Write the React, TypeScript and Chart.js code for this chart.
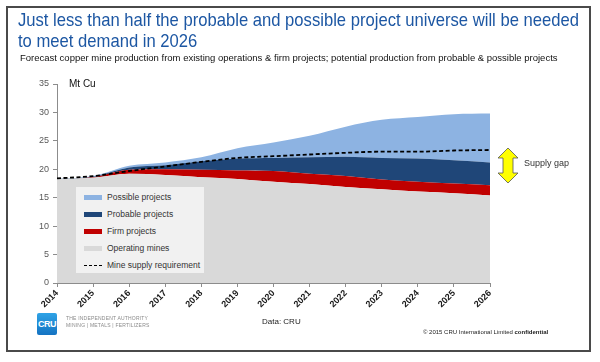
import React, { useEffect, useRef } from "react";
import { Chart, registerables } from "chart.js";

Chart.register(...registerables);

const years = ["2014", "2015", "2016", "2017", "2018", "2019", "2020", "2021", "2022", "2023", "2024", "2025", "2026"];
const operatingMines = [18.3, 18.5, 19.2, 19.0, 18.6, 18.3, 17.8, 17.4, 16.9, 16.5, 16.1, 15.8, 15.4];
const firmProjects = [0.0, 0.1, 0.7, 1.0, 1.3, 1.5, 1.9, 1.8, 1.9, 1.7, 1.7, 1.7, 1.8];
const probableProjects = [0.0, 0.1, 0.4, 0.7, 1.5, 2.1, 2.3, 2.9, 3.4, 3.8, 4.1, 4.1, 4.0];
const possibleProjects = [0.0, 0.1, 0.3, 0.5, 0.7, 1.8, 2.7, 3.8, 5.3, 6.7, 7.3, 8.1, 8.6];
const mineSupplyRequirement = [18.4, 18.8, 19.7, 20.5, 21.3, 22.0, 22.3, 22.6, 22.9, 23.1, 23.1, 23.3, 23.4];
const yTickValues = [0, 5, 10, 15, 20, 25, 30, 35];

const seriesNames = ["Possible projects", "Probable projects", "Firm projects", "Operating mines", "Mine supply requirement"];
const seriesColors = ["#8db3e2", "#1f4678", "#c00000", "#d9d9d9", "#000000"];

const FONT = '"Liberation Sans", Arial, sans-serif';

export default function App() {
  const canvasRef = useRef<HTMLCanvasElement | null>(null);

  useEffect(() => {
    const canvas = canvasRef.current;
    if (!canvas) return;
    const area = (label: string, data: number[], color: string, fill: any) => ({
      label,
      data,
      backgroundColor: color,
      borderColor: color,
      borderWidth: 0,
      pointRadius: 0,
      fill,
      stack: "supply",
      cubicInterpolationMode: "monotone" as const,
    });
    const chart = new Chart(canvas, {
      type: "line",
      data: {
        labels: years,
        datasets: [
          {
            label: seriesNames[4],
            data: mineSupplyRequirement,
            borderColor: "#000000",
            backgroundColor: "#000000",
            borderWidth: 1.8,
            borderDash: [4, 2.5],
            pointRadius: 0,
            fill: false,
            stack: "demand",
            cubicInterpolationMode: "monotone",
          },
          area(seriesNames[3], operatingMines, seriesColors[3], "origin"),
          area(seriesNames[2], firmProjects, seriesColors[2], 1),
          area(seriesNames[1], probableProjects, seriesColors[1], 2),
          area(seriesNames[0], possibleProjects, seriesColors[0], 3),
        ] as any,
      },
      options: {
        responsive: false,
        animation: false,
        devicePixelRatio: 1,
        layout: { padding: { left: 0, top: 84, right: 110, bottom: 0 } },
        plugins: {
          legend: { display: false },
          tooltip: { enabled: false },
          title: { display: false },
        },
        scales: {
          x: {
            type: "category",
            offset: false,
            grid: { drawOnChartArea: false, drawTicks: true, tickLength: 4, color: "#8c8c8c" },
            border: { color: "#8c8c8c" },
            ticks: {
              autoSkip: false,
              minRotation: 45,
              maxRotation: 45,
              padding: 1,
              color: "#1a1a1a",
              font: { family: FONT, size: 9, weight: "bold" },
            },
            afterFit: (s: any) => {
              s.height = 79;
            },
          },
          y: {
            stacked: true,
            min: 0,
            max: 35,
            afterBuildTicks: (s: any) => {
              s.ticks = yTickValues.map((v) => ({ value: v }));
            },
            grid: { drawOnChartArea: false, drawTicks: true, tickLength: 4, color: "#8c8c8c" },
            border: { color: "#8c8c8c" },
            ticks: {
              padding: 4,
              color: "#595959",
              font: { family: FONT, size: 9 },
            },
            afterFit: (s: any) => {
              s.width = 57;
            },
          },
        },
      },
    });
    return () => chart.destroy();
  }, []);

  const legendOrder = [0, 1, 2, 3, 4];

  return (
    <div
      style={{
        position: "fixed",
        left: 0,
        top: 0,
        width: 600,
        height: 362,
        background: "#ffffff",
        fontFamily: FONT,
        overflow: "hidden",
      }}
    >
      <div
        style={{
          position: "absolute",
          left: 6,
          top: 6,
          width: 585,
          height: 346,
          boxSizing: "border-box",
          border: "2px solid #4a4a4a",
        }}
      />
      <canvas ref={canvasRef} width={600} height={362} style={{ position: "absolute", left: 0, top: 0, width: 600, height: 362 }} />
      <div
        style={{
          position: "absolute",
          left: 18,
          top: 9,
          color: "#1d57a3",
          fontSize: 19,
          lineHeight: "21px",
          whiteSpace: "nowrap",
          transform: "scaleX(0.875)",
          transformOrigin: "0 0",
        }}
      >
        <div>Just less than half the probable and possible project universe will be needed</div>
        <div>to meet demand in 2026</div>
      </div>
      <div style={{ position: "absolute", left: 20, top: 52, fontSize: 9.5, color: "#111", whiteSpace: "nowrap" }}>
        Forecast copper mine production from existing operations &amp; firm projects; potential production from probable &amp; possible projects
      </div>
      <div style={{ position: "absolute", left: 69, top: 78, fontSize: 10, color: "#111" }}>Mt Cu</div>

      <div
        style={{
          position: "absolute",
          left: 76,
          top: 187,
          width: 128,
          height: 86,
          background: "#f1f1f1",
        }}
      >
        {legendOrder.map((i, k) => (
          <div key={i} style={{ position: "absolute", left: 8, top: 4 + k * 17, height: 12, display: "flex", alignItems: "center" }}>
            {i === 4 ? (
              <div style={{ width: 18, height: 0, borderTop: "1.5px dashed #000" }} />
            ) : (
              <div style={{ width: 18, height: 5, background: seriesColors[i] }} />
            )}
            <span style={{ marginLeft: 5, fontSize: 8.5, color: "#333", whiteSpace: "nowrap" }}>{seriesNames[i]}</span>
          </div>
        ))}
      </div>

      <svg style={{ position: "absolute", left: 496, top: 146 }} width={24} height={40}>
        <polygon
          points="12,2 22,12 17,12 17,27 22,27 12,37 2,27 7,27 7,12 2,12"
          fill="#ffff00"
          stroke="#555"
          strokeWidth={0.8}
        />
      </svg>
      <div style={{ position: "absolute", left: 524, top: 158, fontSize: 9, color: "#333", whiteSpace: "nowrap" }}>Supply gap</div>

      <div
        style={{
          position: "absolute",
          left: 37,
          top: 313,
          width: 20,
          height: 22,
          borderRadius: 2,
          background: "linear-gradient(180deg, #2fa3e6 0%, #1473c2 100%)",
          color: "#fff",
          fontWeight: "bold",
          fontSize: 9,
          lineHeight: "22px",
          textAlign: "center",
          letterSpacing: -0.5,
        }}
      >
        CRU
      </div>
      <div style={{ position: "absolute", left: 66, top: 315, fontSize: 5, color: "#8a8a8a", lineHeight: "7px", whiteSpace: "nowrap", letterSpacing: 0.2 }}>
        <div>THE INDEPENDENT AUTHORITY</div>
        <div>MINING | METALS | FERTILIZERS</div>
      </div>
      <div style={{ position: "absolute", left: 262, top: 317, fontSize: 8, color: "#222", whiteSpace: "nowrap" }}>Data: CRU</div>
      <div style={{ position: "absolute", left: 423, top: 329, fontSize: 6, color: "#222", whiteSpace: "nowrap" }}>
        © 2015 CRU International Limited <b>confidential</b>
      </div>
    </div>
  );
}
